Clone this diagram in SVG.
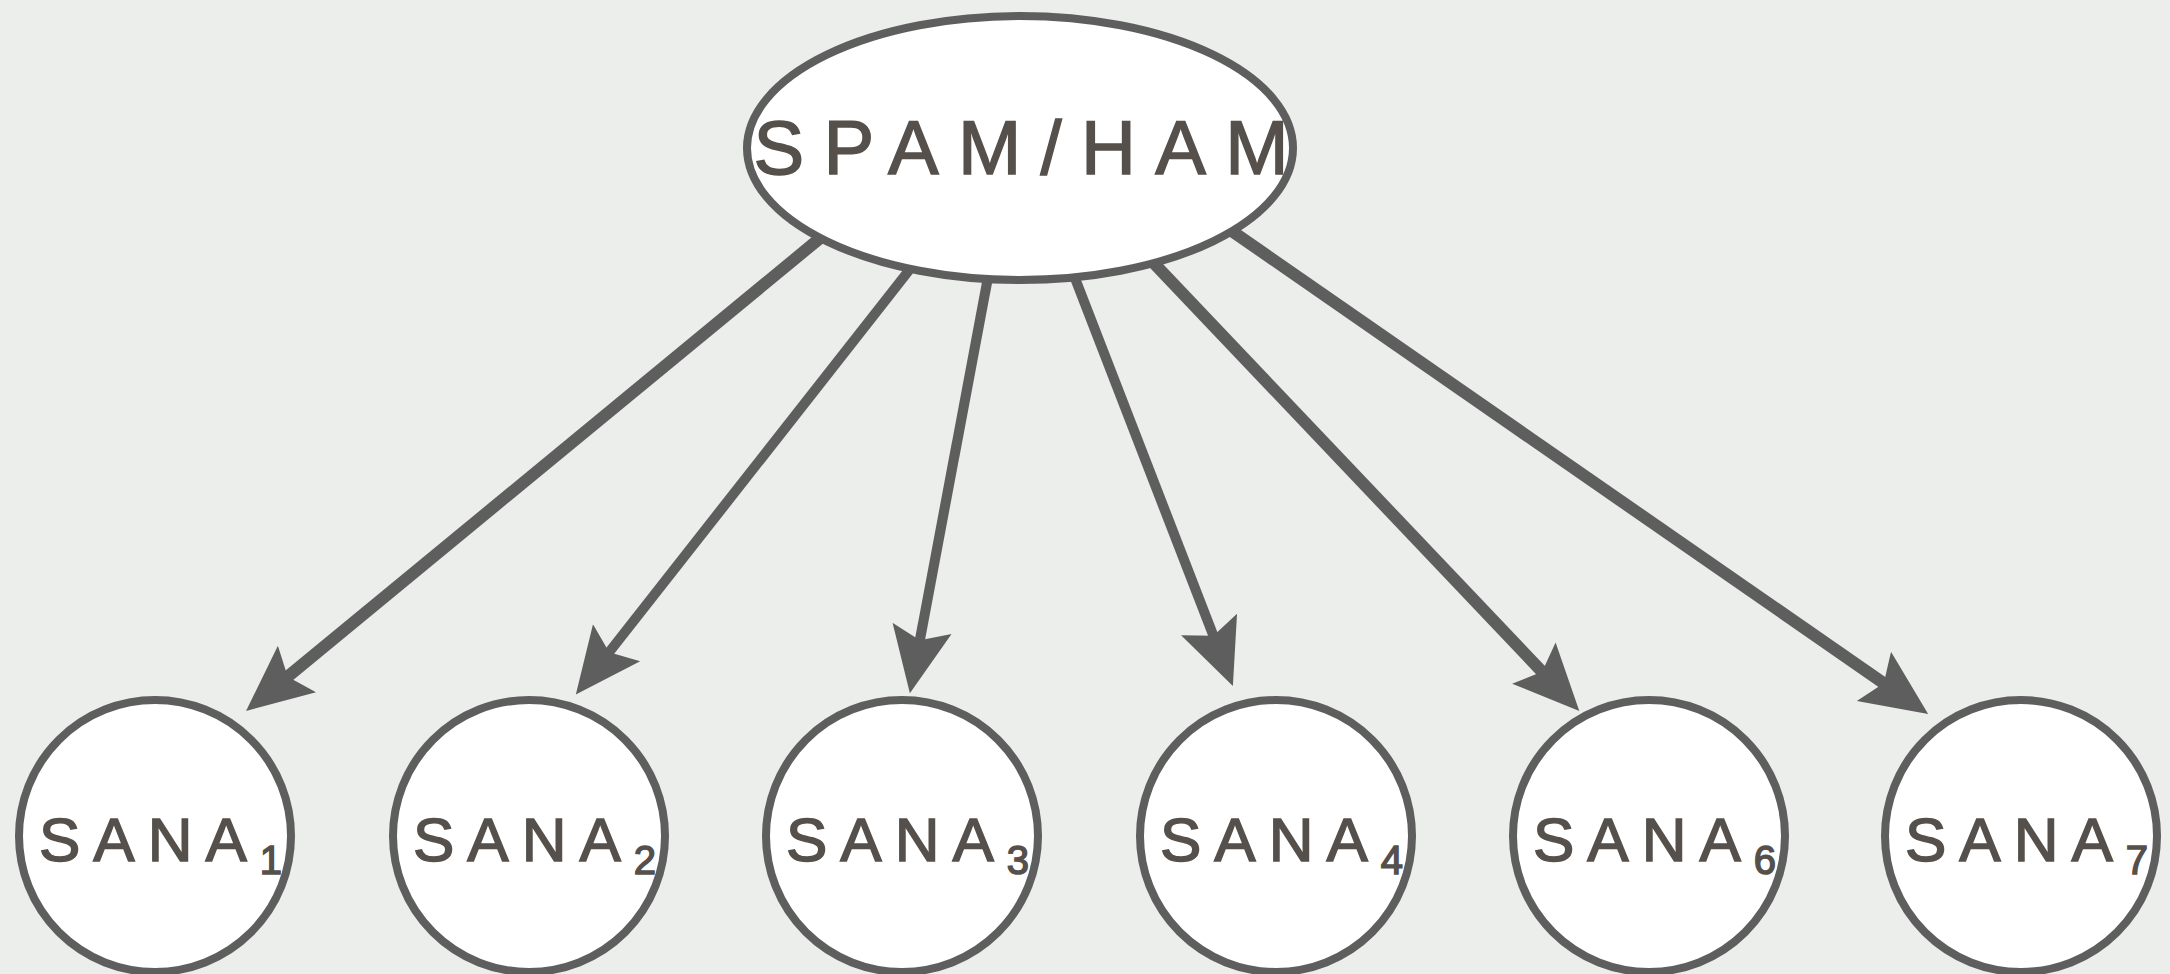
<svg xmlns="http://www.w3.org/2000/svg" width="2170" height="974" viewBox="0 0 2170 974">
<defs>
<style>
.bg{fill:#eceeeb}
.node{fill:#ffffff;stroke:#5e5e5e;stroke-width:8}
.edge{stroke:#5e5e5e;stroke-width:12;fill:none;marker-end:url(#ah)}
.thin{stroke-width:10}
.lbl{font-family:"Liberation Sans",Arial,sans-serif;fill:#55504b;stroke:#55504b;stroke-width:1.5}
.main{font-size:76px}
.sana{font-size:62px;letter-spacing:13px}
.sub{font-size:40px;letter-spacing:0}
</style>
<marker id="ah" markerUnits="userSpaceOnUse" viewBox="0 -32 66 64" refX="22" refY="0" markerWidth="66" markerHeight="64" orient="auto">
<path d="M66,0 L0,-30 L12,0 L0,30 Z" fill="#5e5e5e"/>
</marker>
</defs>
<rect class="bg" x="0" y="0" width="2170" height="974"/>
<g id="connectors">
<line class="edge" x1="830" y1="230" x2="280" y2="683"/>
<line class="edge thin" x1="914" y1="264" x2="603" y2="660"/>
<line class="edge thin" x1="989" y1="272" x2="918" y2="650"/>
<line class="edge thin" x1="1073" y1="273" x2="1217" y2="645"/>
<line class="edge" x1="1149" y1="258" x2="1549" y2="679"/>
<line class="edge" x1="1226" y1="227" x2="1892" y2="689"/>
</g>
<g id="spamham">
<ellipse class="node" cx="1020" cy="148" rx="273" ry="132"/>
<text class="lbl main" x="1021" y="174" text-anchor="middle" textLength="535" lengthAdjust="spacing">SPAM/HAM</text>
</g>
<g id="sana1">
<circle class="node" cx="155" cy="836" r="136"/>
<text class="lbl sana" x="39" y="861">SANA<tspan class="sub" dy="13">1</tspan></text>
</g>
<g id="sana2">
<circle class="node" cx="529" cy="836" r="136"/>
<text class="lbl sana" x="413" y="861">SANA<tspan class="sub" dy="13">2</tspan></text>
</g>
<g id="sana3">
<circle class="node" cx="902" cy="836" r="136"/>
<text class="lbl sana" x="786" y="861">SANA<tspan class="sub" dy="13">3</tspan></text>
</g>
<g id="sana4">
<circle class="node" cx="1276" cy="836" r="136"/>
<text class="lbl sana" x="1160" y="861">SANA<tspan class="sub" dy="13">4</tspan></text>
</g>
<g id="sana6">
<circle class="node" cx="1649" cy="836" r="136"/>
<text class="lbl sana" x="1533" y="861">SANA<tspan class="sub" dy="13">6</tspan></text>
</g>
<g id="sana7">
<circle class="node" cx="2021" cy="836" r="136"/>
<text class="lbl sana" x="1905" y="861">SANA<tspan class="sub" dy="13">7</tspan></text>
</g>
</svg>
